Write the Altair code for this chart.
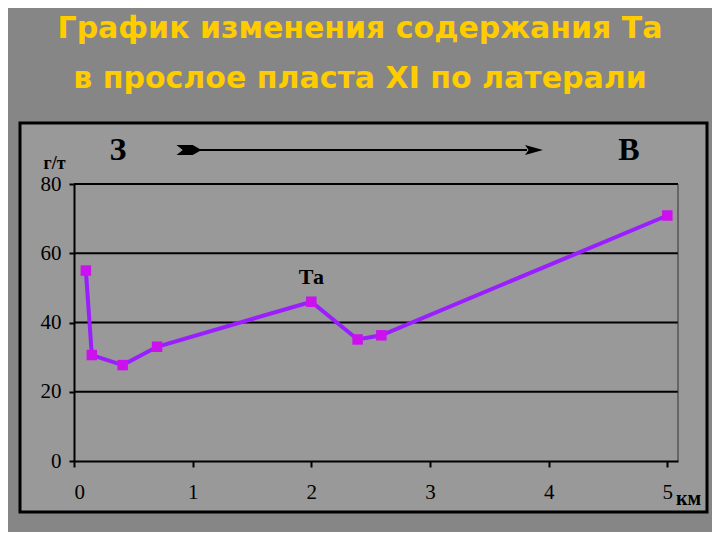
import altair as alt
import pandas as pd

# Data
km = [0.10, 0.15, 0.41, 0.70, 2.00, 2.39, 2.59, 5.00]
ta = [55.0, 30.6, 27.7, 33.0, 46.0, 35.1, 36.3, 70.9]
y_ticks = [0, 20, 40, 60, 80]
x_ticks = [0, 1, 2, 3, 4, 5]
grid_vals = [20, 40, 60, 80]
title_lines = ["График изменения содержания Та", "в прослое пласта XI по латерали"]
series_name = "Та"
west_label = "З"
east_label = "В"

df = pd.DataFrame({"km": km, "ta": ta})
grid_df = pd.DataFrame({"g": grid_vals})
one = alt.Data(values=[{"a": 1}])

W, H = 604, 277
xs = alt.Scale(domain=[0, 5.09], nice=False, zero=False)
ys = alt.Scale(domain=[0, 80], nice=False)

SERIF = "Liberation Serif"

frame = alt.Chart(one).mark_rect(fill="#999999", stroke="black", strokeWidth=3).encode(
    x=alt.value(-54), x2=alt.value(633), y=alt.value(-61), y2=alt.value(328)
)

grid = alt.Chart(grid_df).mark_rule(color="black", strokeWidth=2).encode(
    y=alt.Y("g:Q", scale=ys), x=alt.value(0), x2=alt.value(W)
)

right_edge = alt.Chart(one).mark_rule(color="#333333", strokeWidth=1).encode(
    x=alt.value(W), y=alt.value(0), y2=alt.value(H)
)

line = alt.Chart(df).mark_line(color="#9A1EFF", strokeWidth=4).encode(
    x=alt.X(
        "km:Q",
        scale=xs,
        axis=alt.Axis(
            values=x_ticks, format="d", grid=False, tickSize=6, tickColor="black", tickWidth=2,
            domainColor="black", domainWidth=2, labelFont=SERIF, labelFontSize=21,
            labelColor="black", labelPadding=14, zindex=1,
            title="км", titleFont=SERIF, titleFontSize=20, titleFontWeight="bold",
            titleColor="black", titleX=614, titleY=37, titleAlign="center",
            titleBaseline="middle",
        ),
    ),
    y=alt.Y(
        "ta:Q",
        scale=ys,
        axis=alt.Axis(
            values=y_ticks, format="d", grid=False, tickSize=5, tickColor="black", tickWidth=2,
            domainColor="black", domainWidth=2, labelFont=SERIF, labelFontSize=21,
            labelColor="black", labelPadding=8, zindex=1,
            title="г/т", titleFont=SERIF, titleFontSize=18, titleFontWeight="bold",
            titleColor="black", titleAngle=0, titleX=-20, titleY=-21,
            titleAlign="center", titleBaseline="middle",
        ),
    ),
)

points = alt.Chart(df).mark_square(size=110, color="#CC11EE", opacity=1).encode(
    x=alt.X("km:Q", scale=xs), y=alt.Y("ta:Q", scale=ys)
)

label_df = pd.DataFrame({"km": [km[4]], "ta": [ta[4]], "name": [series_name]})
series_label = alt.Chart(label_df).mark_text(
    font=SERIF, fontSize=22, fontWeight="bold", color="black", dy=-25
).encode(x=alt.X("km:Q", scale=xs), y=alt.Y("ta:Q", scale=ys), text="name:N")

dir_df = pd.DataFrame({"t": [west_label, east_label], "px": [44, 555]})
dirs = alt.Chart(dir_df).mark_text(
    font=SERIF, fontSize=32, fontWeight="bold", color="black", baseline="middle"
).encode(x=alt.X("px:Q", scale=None), y=alt.value(-34), text="t:N")

arrow_line = alt.Chart(one).mark_rule(color="black", strokeWidth=2).encode(
    x=alt.value(126), x2=alt.value(453), y=alt.value(-34)
)
tail = alt.Chart(one).mark_point(
    shape="M -1 -0.4 L 0.3 -0.4 L 1 0 L 0.3 0.4 L -1 0.4 L -0.5 0 Z",
    size=625, filled=True, color="black", opacity=1,
).encode(x=alt.value(115), y=alt.value(-34))
head = alt.Chart(one).mark_point(
    shape="M -1 -0.55 L 1 0 L -1 0.55 L -0.6 0 Z",
    size=324, filled=True, color="black", opacity=1,
).encode(x=alt.value(460), y=alt.value(-34))

title_df = pd.DataFrame({"t": title_lines, "py": [-146, -96]})
title = alt.Chart(title_df).mark_text(
    font="DejaVu Sans", fontWeight="bold",
    fontSize=30, color="#FFCC00", baseline="alphabetic", align="center",
).encode(x=alt.value(286), y=alt.Y("py:Q", scale=None), text="t:N")

chart = alt.layer(
    frame, grid, right_edge, line, points, series_label, dirs, arrow_line, tail, head, title
).properties(
    width=W, height=H,
    autosize=alt.AutoSizeParams(type="none"),
    padding={"left": 66, "top": 176, "right": 34, "bottom": 71},
    background="#868686",
).configure_view(strokeWidth=0)

chart.save("out.html", embed_options={"renderer": "svg", "actions": False})
